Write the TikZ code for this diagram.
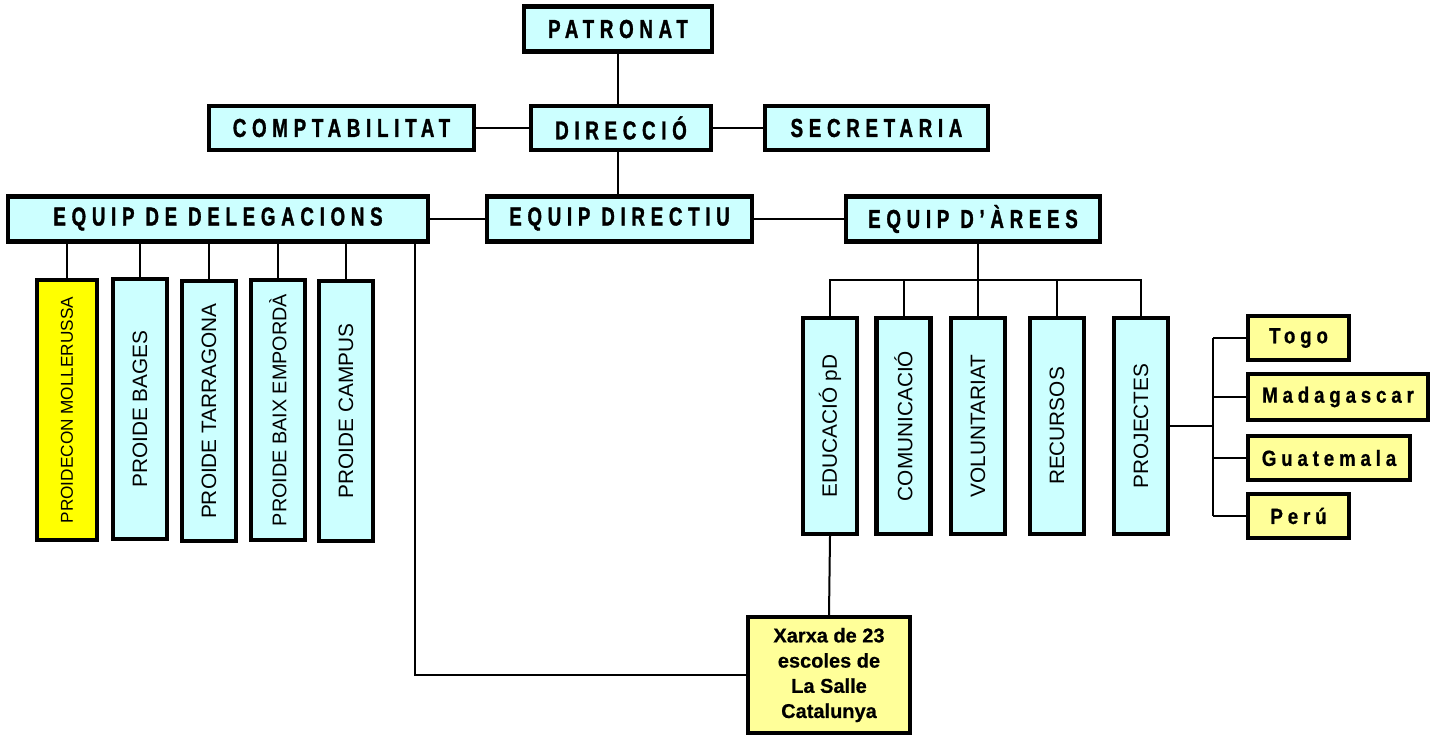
\documentclass[tikz,border=0pt]{standalone}
\usepackage{fontspec}
\setmainfont{Liberation Sans}
\newfontfamily\hdrfont{Liberation Sans}[FakeStretch=0.72,LetterSpace=22,BoldFeatures={FakeBold=1.2}]
\newfontfamily\ctyfont{Liberation Sans}[FakeStretch=0.85,LetterSpace=22,BoldFeatures={FakeBold=0.8}]
\newfontfamily\xfont{Liberation Sans}[BoldFeatures={FakeBold=0.6}]
\definecolor{cyanbox}{HTML}{CCFFFF}
\definecolor{yelbox}{HTML}{FFFF00}
\definecolor{lyelbox}{HTML}{FFFF99}
\tikzset{
  hbox/.style={draw, line width=2.2pt, fill=cyanbox, inner sep=0pt,
    font=\hdrfont\bfseries\fontsize{13}{15}\selectfont, minimum height=22.5pt},
  vbox/.style={draw, line width=2.2pt, fill=cyanbox, inner sep=0pt,
    minimum width=27pt, minimum height=130pt},
  vtext/.style={rotate=90, font=\fontsize{10.4}{12}\selectfont, inner sep=0pt},
  cbox/.style={draw, line width=2.2pt, fill=lyelbox, inner sep=0pt,
    font=\ctyfont\bfseries\fontsize{11}{13}\selectfont, minimum height=22pt},
  conn/.style={line width=1pt},
  thconn/.style={line width=1.4pt}
}
\begin{document}
\begin{tikzpicture}[x=0.5pt,y=-0.5pt]
\useasboundingbox (0,0) rectangle (1450,736);
% top level
\node[hbox, minimum width=94pt] (pat) at (618,29) {PATRONAT};
\node[hbox, minimum width=90pt, minimum height=22pt] (dir) at (621,128) {DIRECCIÓ};
\node[hbox, minimum width=132.5pt, minimum height=22pt] (comp) at (341.5,128) {COMPTABILITAT};
\node[hbox, minimum width=111.5pt, minimum height=22pt] (sec) at (876.5,128) {SECRETARIA};
\node[hbox, minimum width=210pt] (del) at (218,219) {EQUIP DE DELEGACIONS};
\node[hbox, minimum width=132.5pt] (ed) at (619.5,219) {EQUIP DIRECTIU};
\node[hbox, minimum width=127pt] (area) at (973,219) {EQUIP D’ÀREES};
% delegations
\node[vbox, fill=yelbox, minimum width=30pt] (p1) at (67,410) {};
\node[vtext, font=\fontsize{8.6}{10}\selectfont] at (p1) {PROIDECON MOLLERUSSA};
\node[vbox] (p2) at (140,409) {};
\node[vtext] at (p2) {PROIDE BAGES};
\node[vbox] (p3) at (209,411) {};
\node[vtext] at (p3) {PROIDE TARRAGONA};
\node[vbox] (p4) at (278,410) {};
\node[vtext, font=\fontsize{9.9}{12}\selectfont] at (p4) {PROIDE BAIX EMPORDÀ};
\node[vbox] (p5) at (346,411) {};
\node[vtext] at (p5) {PROIDE CAMPUS};
% areas
\node[vbox, minimum height=108pt] (e1) at (830,426) {};
\node[vtext] at (e1) {EDUCACIÓ pD};
\node[vbox, minimum height=108pt] (e2) at (903.5,426) {};
\node[vtext] at (e2) {COMUNICACIÓ};
\node[vbox, minimum height=108pt] (e3) at (978,426) {};
\node[vtext] at (e3) {VOLUNTARIAT};
\node[vbox, minimum height=108pt] (e4) at (1057,426) {};
\node[vtext] at (e4) {RECURSOS};
\node[vbox, minimum height=108pt] (e5) at (1141,426) {};
\node[vtext] at (e5) {PROJECTES};
% countries
\node[cbox, minimum width=50.5pt] (togo) at (1298.5,338) {Togo};
\node[cbox, minimum width=90pt, minimum height=23pt] (mada) at (1338,397) {Madagascar};
\node[cbox, minimum width=81pt] (guat) at (1329,458) {Guatemala};
\node[cbox, minimum width=50.5pt] (peru) at (1298.5,516) {Perú};
% schools
\node[draw, line width=2.2pt, fill=lyelbox, inner sep=0pt, minimum width=81pt, minimum height=58pt,
  align=center, font=\xfont\bfseries\fontsize{10}{12.6}\selectfont] (xarxa) at (829,675)
  {Xarxa de 23\\escoles de\\La Salle\\Catalunya};
% coordinates for buses
\coordinate (busy) at (0,280);
\coordinate (pbx) at (1213,0);
\coordinate (lx) at (415,0);
% connectors
\draw[conn] (pat.south) -- (pat.south |- dir.north);
\draw[thconn] (comp.east) -- (dir.west);
\draw[thconn] (dir.east) -- (sec.west);
\draw[conn] (dir.south -| pat.south) -- (pat.south |- ed.north);
\draw[thconn] (del.east) -- (ed.west);
\draw[thconn] (ed.east) -- (area.west);
\foreach \p in {p1,p2,p3,p4,p5}
  \draw[conn] (\p.north) -- (\p.north |- del.south);
\draw[conn] (lx |- del.south) |- (xarxa.west);
\draw[conn] (e3.north |- area.south) -- (e3.north);
\draw[conn] (e1.north) -- (e1.north |- busy) -- (e5.north |- busy) -- (e5.north);
\foreach \e in {e2,e4}
  \draw[conn] (\e.north) -- (\e.north |- busy);
\draw[conn] (e5.east) -- (e5.east -| pbx);
\draw[conn] (togo.west -| pbx) -- (peru.west -| pbx);
\foreach \c in {togo,mada,guat,peru}
  \draw[conn] (\c.west -| pbx) -- (\c.west);
\draw[conn] (e1.south) -- (xarxa.north);
\end{tikzpicture}
\end{document}
